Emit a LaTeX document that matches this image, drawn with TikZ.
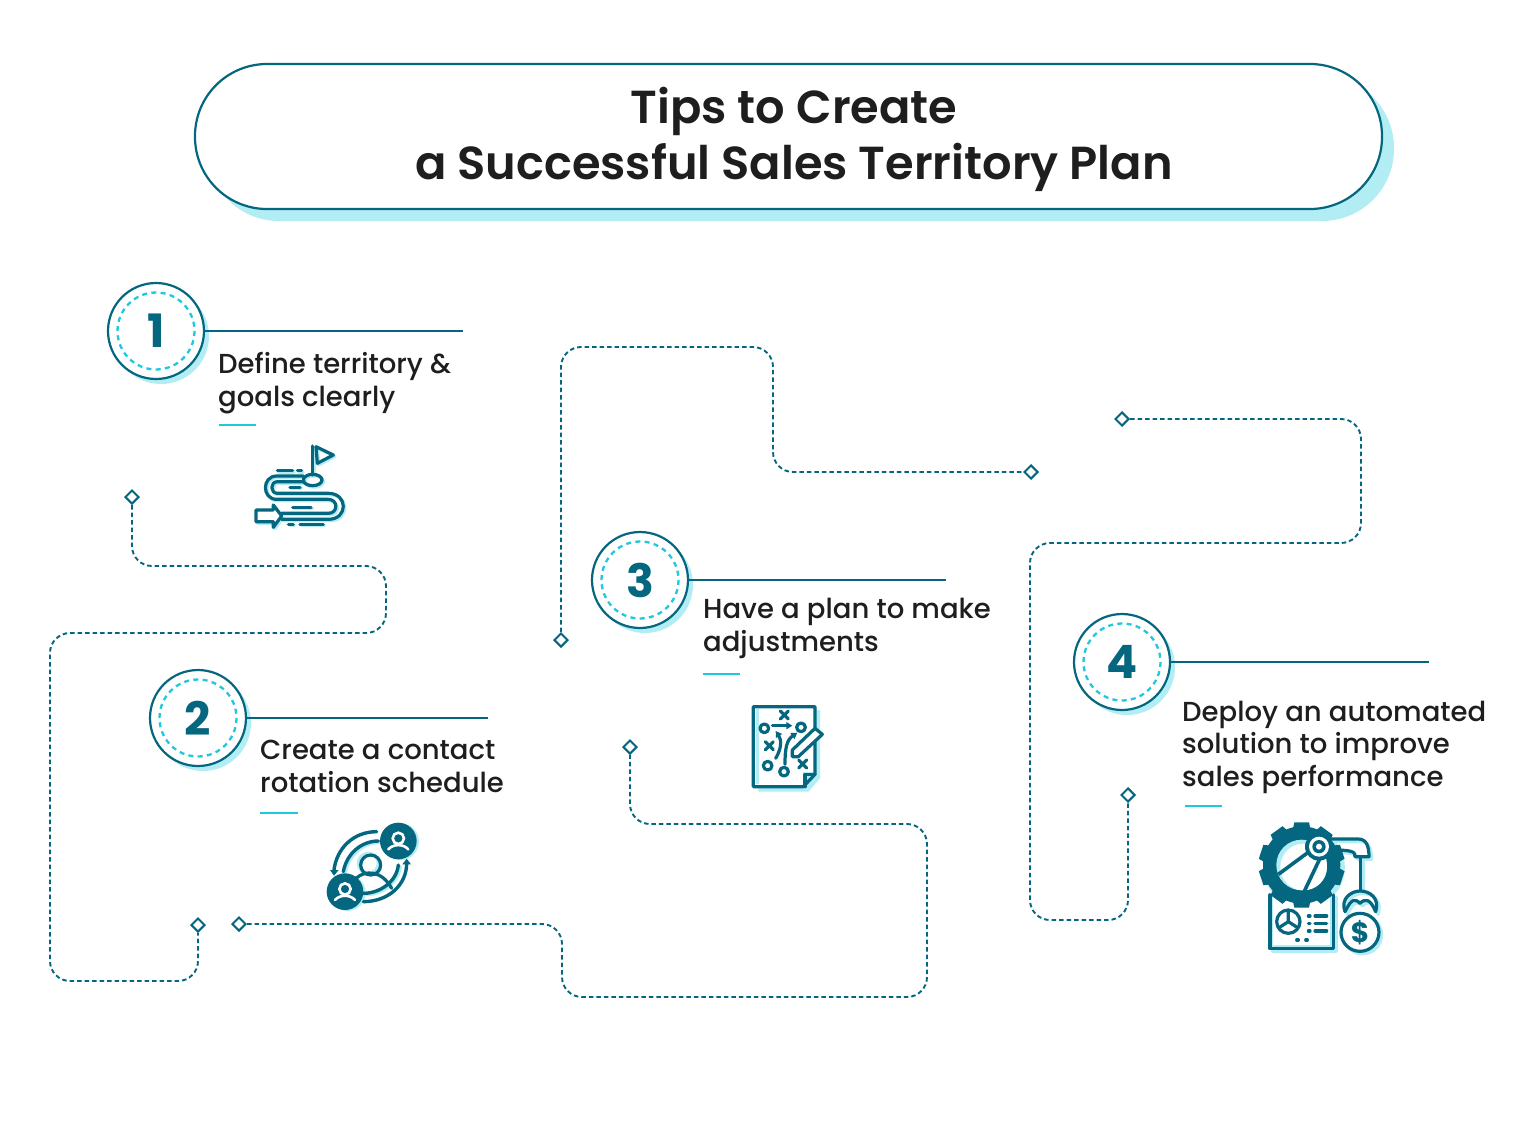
\documentclass[tikz,border=0pt]{standalone}
\usepackage{fontspec}
\setmainfont{Poppins}[UprightFont=* Medium,BoldFont=* SemiBold]
\newfontfamily\numfont{Poppins}[UprightFont=* Bold]
\usetikzlibrary{shapes.geometric,arrows.meta}
\definecolor{tealc}{HTML}{04677F}
\definecolor{paleblue}{HTML}{B2EDF3}
\definecolor{cyanc}{HTML}{1EC8DF}
\definecolor{ink}{HTML}{1E1E1E}
\tikzset{
  route/.style={draw=tealc,line width=1.9pt,dash pattern=on 4.5pt off 3pt,rounded corners=20pt},
  endmark/.style={diamond,draw=tealc,fill=white,line width=2pt,minimum width=14pt,minimum height=14pt,inner sep=0pt},
  stepring/.style={circle,draw=tealc,fill=white,line width=2.2pt,minimum size=96pt,inner sep=0pt,text=tealc,font=\fontsize{46}{46}\numfont},
  stepline/.style={draw=tealc,line width=2.2pt},
  tick/.style={draw=cyanc,line width=2.2pt},
  body/.style={anchor=north west,inner sep=0pt,align=left,text=ink,font=\fontsize{27.5}{32.5}\selectfont},
  ic/.style={line width=3.2pt,line cap=round,line join=round},
}
\newcommand{\iconflag}[1]{
  \draw[ic,#1] (218,48)--(218,135);
  \draw[ic,#1] (228,50)--(280,75)--(232,100)--cycle;
  \draw[ic,#1] (218,150) ellipse (28 and 17);
  \draw[ic,#1] (190,138)--(110,138) .. controls (65,138) and (65,208) .. (110,208)--(265,208) .. controls (295,208) and (295,250) .. (265,250)--(125,250);
  \draw[ic,#1] (190,155)--(112,155) .. controls (90,155) and (90,190) .. (112,190)--(265,190) .. controls (325,190) and (325,268) .. (265,268)--(125,268);
  \draw[ic,#1] (112,122)--(158,122) (172,122)--(185,122) (150,172)--(180,172) (158,232)--(213,232) (145,283)--(160,283) (180,283)--(250,283);
  \draw[ic,#1,fill=white] (48,240)--(100,240)--(100,225)--(125,258)--(100,292)--(100,275)--(48,275)--cycle;
}
\newcommand{\iconplan}[1]{
  \draw[ic,#1] (55,35)--(240,35)--(240,238)--(205,275)--(55,275)--cycle;
  \draw[ic,#1] (210,275)--(210,238)--(240,238);
  \draw[ic,#1] (136,48)--(160,72) (160,48)--(136,72) (91,140)--(115,164) (115,140)--(91,164) (191,195)--(215,219) (215,195)--(191,219);
  \foreach \p in {(88,100),(198,97),(98,212),(147,230)} \draw[ic,#1] \p circle (13);
  \draw[ic,#1,-{Triangle[length=6pt,width=7pt]}] (112,92)--(172,92);
  \draw[ic,#1,-{Triangle[length=6pt,width=7pt]}] (122,190) .. controls (140,160) and (140,135) .. (122,108);
  \draw[ic,#1,-{Triangle[length=6pt,width=7pt]}] (150,208) .. controls (150,160) and (155,135) .. (187,113);
  \draw[ic,#1,fill=white] (172,165)--(240,100)--(262,118)--(190,185)--(172,185)--cycle;
}
\newcommand{\iconauto}[1]{
  \draw[ic,#1,line width=3.6pt] (75,240)--(75,400)--(265,400)--(265,240);
  \draw[ic,#1] (130,320) circle (35);
  \draw[ic,#1] (130,320)--(130,288) (130,320)--(102,338) (130,320)--(158,338);
  \draw[ic,#1] (190,303)--(195,303) (210,303)--(245,303) (190,325)--(195,325) (210,325)--(245,325) (190,348)--(195,348) (210,348)--(245,348) (155,375)--(160,375) (182,375)--(187,375);
  \draw[ic,#1] (255,72)--(340,72) .. controls (365,72) and (372,95) .. (372,125)--(330,125) .. controls (330,110) and (325,105) .. (255,105);
  \draw[ic,#1] (347,125)--(347,225);
  \draw[ic,#1,fill=white] (345,352) circle (57);
  \draw[ic,#1] (300,290) .. controls (285,250) and (320,228) .. (345,228) .. controls (375,228) and (405,250) .. (392,290);
  \draw[ic,#1] (300,290) .. controls (320,250) and (330,250) .. (345,265) .. controls (360,250) and (375,250) .. (392,290);
}
\begin{document}
\begin{tikzpicture}[x=1pt,y=-1pt]
\useasboundingbox (0,0) rectangle (1536,1120);
\fill[white] (0,0) rectangle (1536,1120);

% title
\fill[paleblue,rounded corners=72pt] (207,76) rectangle (1394,221);
\node[draw=tealc,fill=white,line width=2.2pt,rounded corners=72pt,minimum width=1187pt,minimum height=145pt,inner sep=0pt] (titlebox) at (788.5,136.5) {};
\node[inner sep=0pt,align=center,text=ink,font=\fontsize{46.3}{56}\selectfont\bfseries] (title) at (794,139) {Tips to Create\\a Successful Sales Territory Plan};

% routes
\node[endmark] (a1) at (132,497) {};
\node[endmark] (a2) at (198,925) {};
\node[endmark] (b1) at (239,924) {};
\node[endmark] (b2) at (630,747) {};
\node[endmark] (c1) at (561,640) {};
\node[endmark] (c2) at (1031,472) {};
\node[endmark] (d1) at (1122,419) {};
\node[endmark] (d2) at (1128,795) {};
\path[route] (a1) -- (132,566) -- (386,566) -- (386,633) -- (50,633) -- (50,981) -- (198,981) -- (a2);
\path[route] (b1) -- (562,924) -- (562,997) -- (927,997) -- (927,824) -- (630,824) -- (b2);
\path[route] (c1) -- (561,347) -- (773,347) -- (773,472) -- (c2);
\path[route] (d1) -- (1361,419) -- (1361,543) -- (1030,543) -- (1030,920) -- (1128,920) -- (d2);

% step rings
\foreach \n/\x/\y/\l in {n1/156/331/1,n2/198/718/2,n3/640/580/3,n4/1122/662/4}{
  \fill[paleblue] (\x+5,\y+5) circle (48);
  \node[stepring] (\n) at (\x,\y) {\l};
  \draw[cyanc,line width=2.3pt,dash pattern=on 5pt off 4.3pt] (\x,\y) circle (38.5);
}
\coordinate (e1) at (463,331);
\coordinate (e2) at (488,718);
\coordinate (e3) at (946,580);
\coordinate (e4) at (1429,662);
\draw[stepline] (n1) -- (e1);
\draw[stepline] (n2) -- (e2);
\draw[stepline] (n3) -- (e3);
\draw[stepline] (n4) -- (e4);

% labels
\node[body] (t1) at (218,352.5) {Define territory \&\\goals clearly};
\node[body] (t2) at (260,740) {Create a contact\\rotation schedule};
\node[body] (t3) at (703,598) {Have a plan to make\\adjustments};
\node[body] (t4) at (1182,700.5) {Deploy an automated\\solution to improve\\sales performance};
\draw[tick] (219,425)--(256,425);
\draw[tick] (260,813)--(298,813);
\draw[tick] (703,674)--(740,674);
\draw[tick] (1185,806)--(1222,806);

% icon 1
\begin{scope}[shift={(241.5,431.5)},x=0.3333pt,y=-0.3333pt] \iconflag{paleblue} \end{scope}
\begin{scope}[shift={(240,430)},x=0.3333pt,y=-0.3333pt] \iconflag{tealc} \end{scope}

% icon 2
\begin{scope}[shift={(310,810)},x=0.3333pt,y=-0.3333pt]
  \fill[paleblue] (272,95) circle (55) (112,248) circle (55);
  \draw[ic,paleblue] (166,254) .. controls (216,254) and (266,219) .. (271,169) (211,97) .. controls (161,97) and (116,134) .. (106,189) (175,160) circle (30);
\end{scope}
\begin{scope}[shift={(310,810)},x=0.3333pt,y=-0.3333pt]
  \draw[ic,tealc] (182,165) circle (30);
  \draw[ic,tealc] (138,205) .. controls (165,180) and (215,180) .. (245,235);
  \draw[ic,tealc,line width=3.4pt] (200,65) .. controls (130,65) and (80,115) .. (72,180);
  \draw[ic,tealc,line width=3.4pt] (205,93) .. controls (155,93) and (110,130) .. (100,185);
  \draw[ic,tealc,line width=3.4pt] (160,275) .. controls (235,275) and (290,225) .. (290,160);
  \draw[ic,tealc,line width=3.4pt] (160,250) .. controls (210,250) and (260,215) .. (265,165);
  \fill[tealc] (60,180)--(86,180)--(72,197)--cycle (277,163)--(303,163)--(290,146)--cycle;
  \foreach \cx/\cy in {265/93,105/245}{
    \fill[tealc] (\cx,\cy) circle (55);
    \draw[white,line width=2.6pt] (\cx,\cy-8) circle (17);
    \draw[white,line width=2.6pt,line cap=round] (\cx-30,\cy+25) .. controls (\cx-15,\cy+8) and (\cx+15,\cy+8) .. (\cx+30,\cy+25);
  }
\end{scope}

% icon 3
\begin{scope}[shift={(735,695)},x=0.3333pt,y=-0.3333pt]
  \fill[paleblue] (70,45)--(255,45)--(255,250)--(220,290)--(70,290)--cycle;
  \fill[white] (60,40) rectangle (236,232);
  \fill[white] (60,232) rectangle (205,270);
  \fill[paleblue] (62,42) rectangle (72,268);
  \iconplan{tealc}
\end{scope}

% icon 4
\begin{scope}[shift={(1247.5,817.5)},x=0.3333pt,y=-0.3333pt]
  \fill[paleblue] (75,240) rectangle (265,400);
  \iconauto{paleblue}
  \fill[paleblue] (170,150) circle (122);
\end{scope}
\begin{scope}[shift={(1245,815)},x=0.3333pt,y=-0.3333pt]
  \fill[white] (85,240) rectangle (255,390);
  \iconauto{tealc}
  \foreach \a in {0,36,...,324}
    \fill[tealc,rotate around={\a:(170,150)}] (148,22)--(192,22)--(200,60)--(140,60)--cycle;
  \fill[tealc] (170,150) circle (116);
  \fill[paleblue] (170,150) circle (76);
  \fill[white] (176,156) circle (70);
  \draw[tealc,line width=3.6pt] (100,178)--(195,108) (175,235)--(225,130);
  \fill[tealc] (222,95) circle (42);
  \fill[white] (222,95) circle (30);
  \fill[tealc] (222,95) circle (20);
  \fill[white] (222,95) circle (9);
  \node[text=tealc,inner sep=0pt,font=\fontsize{28}{28}\numfont] (dollar) at (345,352) {\$};
\end{scope}
\end{tikzpicture}
\end{document}
